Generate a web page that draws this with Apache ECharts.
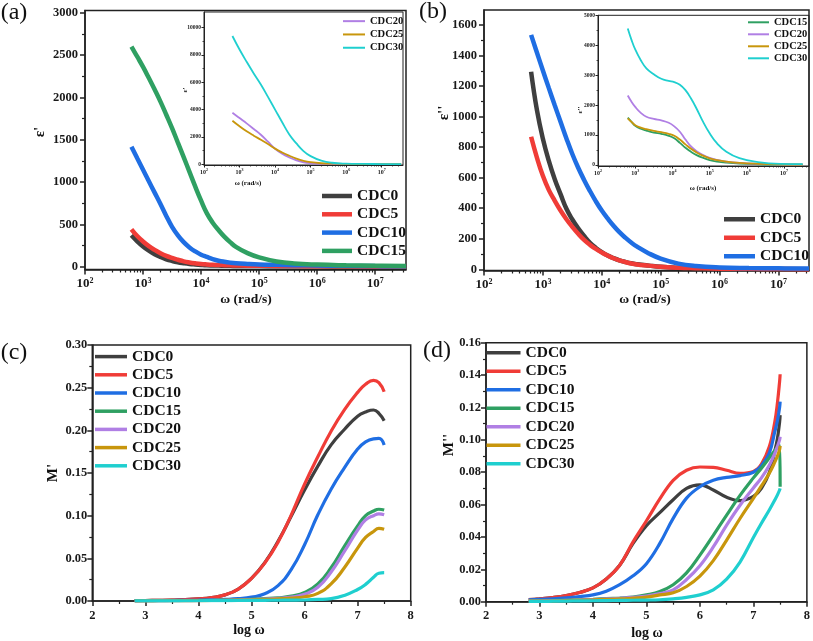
<!DOCTYPE html>
<html><head><meta charset="utf-8">
<script src="https://cdn.jsdelivr.net/npm/echarts@6/dist/echarts.min.js"></script>
<style>html,body{margin:0;padding:0;background:#fff}#c{width:813px;height:641px}</style>
</head><body><div id="c"></div>
<script>
// ---------------- DATA ----------------
const names = ['CDC0','CDC5','CDC10','CDC15','CDC20','CDC25','CDC30'];

// (a) epsilon' main : x = log10(omega)
const aX = [2.8,2.9,3.0,3.1,3.2,3.3,3.4,3.5,3.6,3.7,3.8,3.9,4.0,4.1,4.2,4.3,4.4,4.5,4.6,4.8,5.0,5.3,5.6,6.0,6.5,7.0,7.53];
const aCDC0  = [371,300,240,190,148,115,88,68,52,41,32,26,21,17,15,13,11.5,10,9,8,7,6,5,4,3,2,1];
const aCDC5  = [441,362,298,243,198,160,128,103,82,63,50,40,32,27,23,20,18,16,14.5,12.5,11,9,7,6,4,3,2];
const aCDC10 = [1417,1280,1145,1010,875,740,600,470,370,290,228,180,142,115,90,71,58,48,41,33,27,22,18,14,10,7,5];
const aCDC15 = [2598,2480,2360,2228,2092,1950,1795,1636,1465,1295,1120,945,780,630,520,433,355,290,235,160,110,62,38,25,17,12,8];
// (a) inset
const aiX = [2.80,3.00,3.20,3.40,3.60,3.80,4.00,4.20,4.40,4.60,4.80,5.00,5.30,5.60,6.00,6.50,7.00,7.55];
const aiCDC20 = [3773,3380,2990,2580,2160,1650,1130,760,490,280,140,70,30,15,8,5,3,2];
const aiCDC25 = [3187,2780,2410,2090,1790,1480,1140,860,620,410,250,150,70,35,18,10,6,4];
const aiCDC30 = [9392,8400,7500,6650,5840,4930,4000,3070,2180,1520,960,590,260,105,40,20,12,8];

// (b) epsilon'' main
const bX = [2.8,2.9,3.0,3.1,3.2,3.3,3.4,3.5,3.6,3.7,3.8,3.9,4.0,4.1,4.2,4.3,4.4,4.5,4.6,4.8,5.0,5.3,5.6,6.0,6.5,7.0,7.52];
const bCDC0  = [1294,1040,855,712,592,492,396,326,268,218,174,140,112,90,73,59,48,39,33,24,16,10,7,4,3,2,1];
const bCDC5  = [868,730,612,520,450,385,328,278,232,192,160,133,110,90,72,58,47,38,32,24,16,10,7,4,3,2,1];
const bCDC10 = [1535,1418,1302,1188,1076,966,857,755,665,585,512,445,385,333,285,243,207,175,148,104,70,37,21,12,8,6,5];
// (b) inset
const biX = [2.80,2.90,3.00,3.15,3.30,3.50,3.70,3.90,4.05,4.20,4.35,4.50,4.65,4.80,5.00,5.20,5.45,5.80,6.30,6.90,7.50];
const biCDC15 = [1580,1440,1310,1210,1150,1085,1040,975,890,740,575,440,330,250,167,115,77,45,25,15,10];
const biCDC20 = [2320,2110,1940,1740,1613,1540,1490,1410,1290,1112,850,620,460,350,240,170,115,70,40,20,10];
const biCDC25 = [1560,1440,1330,1250,1195,1140,1095,1040,975,850,690,540,420,320,224,160,110,70,40,20,10];
const biCDC30 = [4560,4180,3860,3500,3230,3030,2880,2810,2770,2680,2500,2220,1880,1500,1060,720,444,228,100,40,30];

// (c) M'
const cX = [2.8,3.0,3.25,3.5,3.75,4.0,4.25,4.5,4.75,5.0,5.25,5.5,5.75,6.0,6.25,6.5,6.75,7.0,7.15,7.3,7.4,7.5];
const cCDC0  = [0.0005,0.0006,0.0008,0.0011,0.0016,0.0024,0.0040,0.0072,0.0140,0.0265,0.0450,0.0700,0.0995,0.1300,0.1580,0.1830,0.2010,0.2165,0.2215,0.2238,0.2200,0.2113];
const cCDC5  = [0.0005,0.0006,0.0008,0.0011,0.0016,0.0024,0.0040,0.0072,0.0140,0.0265,0.0445,0.0690,0.1010,0.1370,0.1690,0.1990,0.2240,0.2445,0.2540,0.2586,0.2560,0.2453];
const cCDC10 = [0.0003,0.0004,0.0005,0.0006,0.0008,0.0010,0.0013,0.0018,0.0027,0.0045,0.0085,0.0180,0.0370,0.0660,0.1010,0.1310,0.1560,0.1780,0.1865,0.1900,0.1905,0.1828];
const cCDC15 = [0.0002,0.0002,0.0003,0.0004,0.0005,0.0006,0.0008,0.0011,0.0015,0.0020,0.0027,0.0037,0.0057,0.0100,0.0200,0.0390,0.0640,0.0880,0.1000,0.1055,0.1075,0.1066];
const cCDC20 = [0.0002,0.0002,0.0003,0.0003,0.0004,0.0005,0.0007,0.0009,0.0012,0.0016,0.0022,0.0030,0.0045,0.0078,0.0160,0.0340,0.0580,0.0830,0.0950,0.1000,0.1020,0.1010];
const cCDC25 = [0.0002,0.0002,0.0003,0.0003,0.0004,0.0005,0.0006,0.0008,0.0010,0.0013,0.0018,0.0025,0.0033,0.0050,0.0090,0.0200,0.0390,0.0620,0.0745,0.0815,0.0850,0.0840];
const cCDC30 = [0.0001,0.0001,0.0002,0.0002,0.0003,0.0003,0.0004,0.0005,0.0006,0.0007,0.0008,0.0009,0.0010,0.0012,0.0018,0.0028,0.0065,0.0135,0.0195,0.0278,0.0325,0.0332];

// (d) M''
const dX = [2.80,3.00,3.25,3.50,3.75,4.00,4.25,4.50,4.75,5.00,5.25,5.50,5.75,6.00,6.25,6.50,6.75,7.00,7.15,7.30,7.40,7.45,7.49,7.50];
const dCDC0  = [0.0013,0.0018,0.0026,0.0038,0.0057,0.0085,0.0140,0.0225,0.0360,0.0470,0.0550,0.0630,0.0700,0.0722,0.0690,0.0645,0.0624,0.0650,0.0700,0.0800,0.0930,0.1010,0.1110,0.1153];
const dCDC5  = [0.0013,0.0018,0.0026,0.0038,0.0057,0.0085,0.0140,0.0225,0.0370,0.0500,0.0635,0.0750,0.0812,0.0832,0.0830,0.0812,0.0793,0.0805,0.0850,0.0960,0.1110,0.1230,0.1360,0.1405];
const dCDC10 = [0.0012,0.0014,0.0018,0.0024,0.0032,0.0042,0.0065,0.0105,0.0160,0.0235,0.0360,0.0515,0.0640,0.0710,0.0750,0.0768,0.0779,0.0800,0.0840,0.0920,0.1050,0.1120,0.1200,0.1236];
const dCDC15 = [0.0004,0.0005,0.0007,0.0009,0.0012,0.0015,0.0019,0.0023,0.0028,0.0042,0.0063,0.0105,0.0178,0.0288,0.0410,0.0535,0.0657,0.0765,0.0825,0.0890,0.0935,0.0955,0.0970,0.0710];
const dCDC20 = [0.0003,0.0004,0.0006,0.0008,0.0010,0.0013,0.0017,0.0021,0.0027,0.0035,0.0050,0.0073,0.0137,0.0222,0.0338,0.0473,0.0596,0.0703,0.0765,0.0845,0.0917,0.0960,0.1000,0.1019];
const dCDC25 = [0.0003,0.0004,0.0005,0.0007,0.0009,0.0011,0.0014,0.0017,0.0022,0.0028,0.0042,0.0055,0.0094,0.0158,0.0254,0.0381,0.0514,0.0638,0.0715,0.0795,0.0862,0.0900,0.0940,0.0962];
const dCDC30 = [0.0002,0.0002,0.0003,0.0004,0.0005,0.0006,0.0007,0.0008,0.0009,0.0010,0.0012,0.0018,0.0027,0.0042,0.0073,0.0139,0.0245,0.0397,0.0485,0.0568,0.0628,0.0660,0.0690,0.0700];

// tick values
const logTicks = [2,3,4,5,6,7];
const aYTicks = [0,500,1000,1500,2000,2500,3000];
const aiYTicks = [0,2000,4000,6000,8000,10000];
const bYTicks = [0,200,400,600,800,1000,1200,1400,1600];
const biYTicks = [0,1000,2000,3000,4000,5000];
const cdXTicks = [2,3,4,5,6,7,8];
const cYTicks = [0,0.05,0.10,0.15,0.20,0.25,0.30];
const dYTicks = [0,0.02,0.04,0.06,0.08,0.10,0.12,0.14,0.16];

// ---------------- STYLE ----------------
const FONT = '"Liberation Serif","Times New Roman",serif';
const COLORS = {CDC0:'#3f3f3f',CDC5:'#f03c37',CDC10:'#1f6ee3',CDC15:'#2fa062',CDC20:'#b07fe4',CDC25:'#c8960c',CDC30:'#1fcfcf'};
const AX = '#222';

const option = {
  animation:false, backgroundColor:'#fff',
  grid:[], xAxis:[], yAxis:[], series:[], legend:[], graphic:[]
};

function minorLog(max){
  const r=[]; for(let n=2;n<8;n++){for(let k=2;k<10;k++){const v=n+Math.log10(k); if(v<max) r.push(v);}} return r;
}
function mids(t){const r=[];for(let i=0;i<t.length-1;i++) r.push((t[i]+t[i+1])/2);return r;}

function addPanel(p){
  const gi = option.grid.length;
  option.grid.push({left:p.left, top:p.top, width:p.w, height:p.h, show:true, borderColor:AX, borderWidth:p.lw, backgroundColor:'rgba(0,0,0,0)'});
  const xi = option.xAxis.length, yi = option.yAxis.length;
  const lab = {show:true, fontFamily:FONT, fontWeight:'bold', color:'#1a1a1a', fontSize:p.fs};
  option.xAxis.push({type:'value', gridIndex:gi, min:p.xmin, max:p.xmax, position:'bottom',
    axisLine:{show:true,onZero:false,lineStyle:{color:AX,width:p.lw}},
    axisTick:{show:true,inside:false,length:p.tl,customValues:p.xt,lineStyle:{color:AX,width:p.lw}},
    axisLabel:Object.assign({}, lab, {customValues:p.xt, margin:p.xm, formatter:p.xf, rich:p.rich}),
    splitLine:{show:false}});
  option.xAxis.push({type:'value', gridIndex:gi, min:p.xmin, max:p.xmax, position:'bottom',
    axisLine:{show:false,onZero:false}, axisLabel:{show:false},
    axisTick:{show:true,inside:false,length:p.ml,customValues:p.xmn,lineStyle:{color:AX,width:p.lw*0.8}},
    splitLine:{show:false}});
  option.yAxis.push({type:'value', gridIndex:gi, min:p.ymin, max:p.ymax, position:'left',
    axisLine:{show:true,onZero:false,lineStyle:{color:AX,width:p.lw}},
    axisTick:{show:true,inside:false,length:p.tl,customValues:p.yt,lineStyle:{color:AX,width:p.lw}},
    axisLabel:Object.assign({}, lab, {customValues:p.yt, margin:p.ym, formatter:p.yf}),
    splitLine:{show:false}});
  option.yAxis.push({type:'value', gridIndex:gi, min:p.ymin, max:p.ymax, position:'left',
    axisLine:{show:false,onZero:false}, axisLabel:{show:false},
    axisTick:{show:true,inside:false,length:p.ml,customValues:p.ymn,lineStyle:{color:AX,width:p.lw*0.8}},
    splitLine:{show:false}});
  p.series.forEach(s=>{
    option.series.push({type:'line', name:s.name, xAxisIndex:xi, yAxisIndex:yi,
      data:s.x.map((v,i)=>[v,s.y[i]]), showSymbol:false, symbol:'none', smooth:p.sm||0.45,
      color:COLORS[s.name], itemStyle:{color:COLORS[s.name]},
      lineStyle:{color:COLORS[s.name], width:p.sw}, z:3});
  });
}
const logFmt = v => '{b|10}{e|' + Math.round(v) + '}';
function logRich(fs){return {b:{fontSize:fs,fontFamily:FONT,fontWeight:'bold',color:'#1a1a1a',lineHeight:fs+2},
  e:{fontSize:Math.round(fs*0.62),fontFamily:FONT,fontWeight:'bold',color:'#1a1a1a',verticalAlign:'top',lineHeight:fs*0.62}};}

// (a) main
addPanel({left:85, top:10.5, w:321, h:259, lw:1.5, fs:12.5, tl:5, ml:3,
  xmin:2, xmax:7.53, xt:logTicks, xmn:minorLog(7.53), xm:7, xf:logFmt, rich:logRich(13),
  ymin:-33, ymax:3026, yt:aYTicks, ymn:mids(aYTicks), ym:7, yf:v=>String(v), sw:4.5,
  series:[{name:'CDC0',x:aX,y:aCDC0},{name:'CDC5',x:aX,y:aCDC5},{name:'CDC10',x:aX,y:aCDC10},{name:'CDC15',x:aX,y:aCDC15}]});
// (a) inset
addPanel({left:204, top:12, w:199, h:153, lw:1, fs:5.5, tl:2.5, ml:1.5,
  xmin:2, xmax:7.6, xt:logTicks, xmn:minorLog(7.6), xm:3, xf:logFmt, rich:logRich(6),
  ymin:-59, ymax:11150, yt:aiYTicks, ymn:mids(aiYTicks), ym:3, yf:v=>String(v), sw:1.8,
  series:[{name:'CDC20',x:aiX,y:aiCDC20},{name:'CDC25',x:aiX,y:aiCDC25},{name:'CDC30',x:aiX,y:aiCDC30}]});
// (b) main
addPanel({left:484, top:10, w:325, h:260.5, lw:1.5, fs:12.5, tl:5, ml:3,
  xmin:2, xmax:7.52, xt:logTicks, xmn:minorLog(7.52), xm:7, xf:logFmt, rich:logRich(13),
  ymin:-8, ymax:1698, yt:bYTicks, ymn:mids(bYTicks), ym:7, yf:v=>String(v), sw:4.5,
  series:[{name:'CDC0',x:bX,y:bCDC0},{name:'CDC5',x:bX,y:bCDC5},{name:'CDC10',x:bX,y:bCDC10}]});
// (b) inset
addPanel({left:598, top:15.3, w:211, h:150.7, lw:1, fs:5.5, tl:2.5, ml:1.5,
  xmin:2, xmax:7.67, xt:logTicks, xmn:minorLog(7.67), xm:3, xf:logFmt, rich:logRich(6),
  ymin:-33, ymax:5000, yt:biYTicks, ymn:mids(biYTicks), ym:3, yf:v=>String(v), sw:1.8,
  series:[{name:'CDC15',x:biX,y:biCDC15},{name:'CDC20',x:biX,y:biCDC20},{name:'CDC25',x:biX,y:biCDC25},{name:'CDC30',x:biX,y:biCDC30}]});
// (c)
addPanel({left:92.3, top:345, w:318.4, h:256, lw:1.5, fs:12.5, tl:5, ml:3,
  xmin:2, xmax:8, xt:cdXTicks, xmn:mids(cdXTicks), xm:8, xf:v=>String(v),
  ymin:0, ymax:0.30, yt:cYTicks, ymn:mids(cYTicks), ym:5, yf:v=>v.toFixed(2), sw:3.2, sm:0.5,
  series:names.map((n,i)=>({name:n,x:cX,y:[cCDC0,cCDC5,cCDC10,cCDC15,cCDC20,cCDC25,cCDC30][i]}))});
// (d)
addPanel({left:486, top:342.7, w:322.3, h:259, lw:1.5, fs:12.5, tl:5, ml:3,
  xmin:2, xmax:8, xt:cdXTicks, xmn:mids(cdXTicks), xm:8, xf:v=>String(v),
  ymin:0, ymax:0.16, yt:dYTicks, ymn:mids(dYTicks), ym:5, yf:v=>v.toFixed(2), sw:3.2, sm:0.4,
  series:names.map((n,i)=>({name:n,x:dX,y:[dCDC0,dCDC5,dCDC10,dCDC15,dCDC20,dCDC25,dCDC30][i]}))});

// legends
function leg(data,left,top,iw,ih,fs,lh,gap){
  option.legend.push({data:data, left:left, top:top, orient:'vertical', icon:'rect', itemWidth:iw, itemHeight:ih,
    itemGap:gap, padding:0, selectedMode:false, itemStyle:{borderWidth:0},
    textStyle:{fontSize:fs, fontWeight:'bold', fontFamily:FONT, color:'#111', lineHeight:lh}});
}
leg(['CDC0','CDC5','CDC10','CDC15'], 322, 187, 30, 4.5, 15.5, 18, 0.3);
leg(['CDC20','CDC25','CDC30'], 343, 14.5, 22, 2, 10.5, 13.3, 0);
leg(['CDC0','CDC5','CDC10'], 724, 210, 31, 4.5, 15.5, 18.5, 0);
leg(['CDC15','CDC20','CDC25','CDC30'], 748, 16.3, 21, 2, 10.5, 12, 0);
leg(names, 95, 347.5, 32, 3.5, 15.5, 18.2, 0);
leg(names, 486.5, 343.5, 34, 3.5, 15.5, 18.5, 0);

// texts
function txt(t,x,y,fs,bold,rot){
  option.graphic.push({type:'text', x:x, y:y, rotation:rot||0, z:10,
    style:{text:t, fontSize:fs, fontFamily:FONT, fontWeight:bold?'bold':'normal', fill:'#111',
      align:'center', verticalAlign:'middle', textAlign:'center', textVerticalAlign:'middle'}});
}
txt('(a)',14,13,24,false); txt('(b)',433,12,24,false); txt('(c)',14,353,24,false); txt('(d)',437,351,24,false);
txt("ε'",40,132,15,true,Math.PI/2);
txt('ω (rad/s)',246,300,13.5,true);
txt("ε'",185,90,7,true,Math.PI/2);
txt('ω (rad/s)',248,183,7,true);
txt("ε''",444,113,15,true,Math.PI/2);
txt('ω (rad/s)',645,300,13.5,true);
txt("ε''",580,110,7,true,Math.PI/2);
txt('ω (rad/s)',703,188,7,true);
txt("M'",53,473,15,true,Math.PI/2);
txt('log ω',249,630,14,true);
txt("M''",449,445,15,true,Math.PI/2);
txt('log ω',647,633,14,true);

const chart = echarts.init(document.getElementById('c'), null, {renderer:'canvas'});
chart.setOption(option);
</script></body></html>
